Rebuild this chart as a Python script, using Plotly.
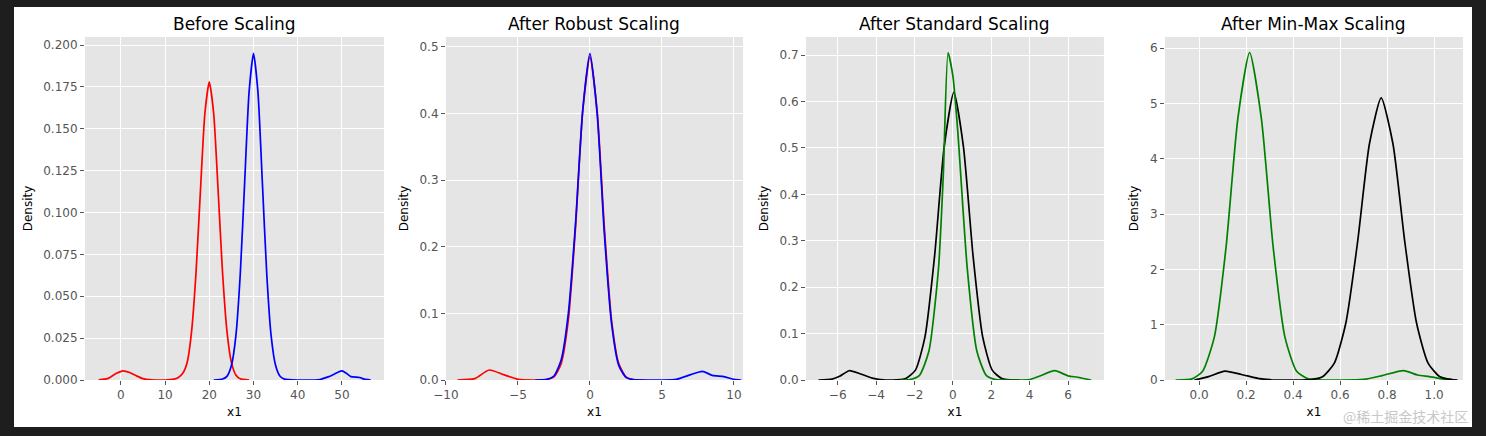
import plotly.graph_objects as go

# ---- density curves (x, density) ----
before_red_x = [-5, -3, -1, 0.5, 2, 3.5, 5, 7, 10, 12, 13, 14, 15, 16, 17, 18, 19, 20, 21, 22, 23, 24, 25, 26, 27, 29]
before_red_y = [0.0001, 0.0008, 0.004, 0.0055, 0.0045, 0.0025, 0.0008, 0.0001, 0, 0.0005, 0.0015, 0.004, 0.0105, 0.029,
                0.064, 0.113, 0.159, 0.178, 0.159, 0.113, 0.064, 0.029, 0.0105, 0.003, 0.0007, 0]
before_blue_x = [21, 23, 24, 25, 26, 27, 28, 29, 30, 31, 32, 33, 34, 35, 36, 37, 40, 45, 47, 49, 50, 51, 52, 54, 55, 56.5]
before_blue_y = [0, 0.0006, 0.0022, 0.0086, 0.026, 0.063, 0.118, 0.172, 0.195, 0.172, 0.118, 0.063, 0.026, 0.0086,
                 0.0022, 0.0005, 0, 0.0003, 0.002, 0.0045, 0.0055, 0.004, 0.002, 0.0015, 0.0005, 0]

robust_red_x = [-9.2, -8, -7, -6, -5, -4, -3, -2.5, -2, -1.5, -1, -0.5, 0, 0.5, 1, 1.5, 2, 2.5, 3, 3.8]
robust_red_y = [0, 0.002, 0.015, 0.008, 0.001, 0, 0.0006, 0.0047, 0.0246, 0.09, 0.229, 0.404, 0.485, 0.404, 0.229,
                0.09, 0.0246, 0.0047, 0.0006, 0]
robust_blue_x = [-3.8, -3, -2.5, -2, -1.5, -1, -0.5, 0, 0.5, 1, 1.5, 2, 2.5, 3, 5, 6, 7, 7.8, 8.5, 9.3, 10, 10.5]
robust_blue_y = [0, 0.001, 0.006, 0.03, 0.1, 0.235, 0.405, 0.49, 0.4, 0.22, 0.085, 0.022, 0.004, 0.0005, 0, 0.001,
                 0.008, 0.013, 0.007, 0.005, 0.001, 0]

standard_black_x = [-7, -6.3, -5.9, -5.4, -4.8, -4.2, -3.5, -2.95, -2.45, -1.95, -1.45, -0.95, -0.45, 0.05, 0.55,
                    1.05, 1.55, 2.05, 2.55, 3, 3.5]
standard_black_y = [0, 0.002, 0.008, 0.02, 0.013, 0.004, 0, 0.0003, 0.0031, 0.0212, 0.0935, 0.268, 0.503, 0.62,
                    0.503, 0.268, 0.0935, 0.0212, 0.0031, 0.0003, 0]
standard_green_x = [-2.75, -2.25, -1.75, -1.25, -0.75, -0.5, -0.25, 0, 0.25, 0.75, 1.25, 1.75, 2.25, 3, 4, 4.5, 5.3,
                    6, 6.5, 7.2]
standard_green_y = [0, 0.0008, 0.0093, 0.062, 0.24, 0.44, 0.705, 0.655, 0.539, 0.24, 0.062, 0.0093, 0.0008, 0, 0.001,
                    0.008, 0.02, 0.009, 0.006, 0]

minmax_green_x = [-0.1, -0.03, 0.015, 0.065, 0.115, 0.165, 0.215, 0.265, 0.315, 0.365, 0.415, 0.465, 0.52, 0.7,
                  0.78, 0.87, 0.93, 0.98, 1.05, 1.09]
minmax_green_y = [0, 0.02, 0.16, 0.78, 2.41, 4.73, 5.92, 4.73, 2.41, 0.78, 0.16, 0.02, 0, 0.01, 0.08, 0.17, 0.09,
                  0.06, 0.01, 0]
minmax_black_x = [-0.02, 0.04, 0.11, 0.18, 0.25, 0.3, 0.4, 0.475, 0.525, 0.575, 0.625, 0.675, 0.725, 0.775, 0.825,
                  0.875, 0.925, 0.975, 1.025, 1.075, 1.1]
minmax_black_y = [0, 0.06, 0.16, 0.1, 0.03, 0.005, 0, 0.009, 0.06, 0.30, 1.04, 2.51, 4.27, 5.1, 4.27, 2.51, 1.04,
                  0.30, 0.06, 0.009, 0]

titles = ["Before Scaling", "After Robust Scaling", "After Standard Scaling", "After Min-Max Scaling"]
panels = [
    [(before_red_x, before_red_y, "red"), (before_blue_x, before_blue_y, "blue")],
    [(robust_red_x, robust_red_y, "red"), (robust_blue_x, robust_blue_y, "blue")],
    [(standard_black_x, standard_black_y, "black"), (standard_green_x, standard_green_y, "green")],
    [(minmax_green_x, minmax_green_y, "green"), (minmax_black_x, minmax_black_y, "black")],
]
x_ranges = [[-8.1, 59.5], [-10, 10.63], [-7.65, 7.87], [-0.145, 1.123]]
y_ranges = [[0, 0.2048], [0, 0.5146], [0, 0.739], [0, 6.2]]
x_ticks = [[0, 10, 20, 30, 40, 50], [-10, -5, 0, 5, 10], [-6, -4, -2, 0, 2, 4, 6],
           [0.0, 0.2, 0.4, 0.6, 0.8, 1.0]]
y_ticks = [dict(tickvals=[0, 0.025, 0.05, 0.075, 0.1, 0.125, 0.15, 0.175, 0.2], tickformat=".3f"),
           dict(tickvals=[0, 0.1, 0.2, 0.3, 0.4, 0.5], tickformat=".1f"),
           dict(tickvals=[0, 0.1, 0.2, 0.3, 0.4, 0.5, 0.6, 0.7], tickformat=".1f"),
           dict(tickvals=[0, 1, 2, 3, 4, 5, 6], tickformat="d")]
x_domains = [[0.0572, 0.2584], [0.3001, 0.5], [0.5424, 0.7429], [0.784, 0.9845]]
x_fmt = ["d", "d", "d", ".1f"]

W, H = 1486, 436
DARK = "#1e1e1e"


def frame_rect(x0, x1, y0, y1):
    return dict(type="rect", xref="paper", yref="paper", x0=x0 / W, x1=x1 / W, y0=1 - y1 / H, y1=1 - y0 / H,
                fillcolor=DARK, line=dict(width=0), layer="above")


fig = go.Figure()
layout = dict(
    width=W, height=H, margin=dict(l=0, r=0, t=0, b=0, autoexpand=False),
    paper_bgcolor="white", plot_bgcolor="#E5E5E5", showlegend=False,
    font=dict(family="DejaVu Sans", color="#555555", size=12),
    shapes=[frame_rect(0, 14, 0, H), frame_rect(1472, W, 0, H),
            frame_rect(0, W, 0, 7), frame_rect(0, W, 427, H)],
    annotations=[],
)
for i in range(4):
    n = "" if i == 0 else str(i + 1)
    for xs, ys, c in panels[i]:
        fig.add_trace(go.Scatter(x=xs, y=ys, mode="lines", line=dict(color=c, width=1.7, shape="spline", smoothing=0.6),
                                 xaxis="x" + n, yaxis="y" + n, hoverinfo="skip"))
    layout["xaxis" + n] = dict(domain=x_domains[i], range=x_ranges[i], tickvals=x_ticks[i], tickformat=x_fmt[i],
                               showgrid=True, gridcolor="white", gridwidth=1, zeroline=False, ticks="outside",
                               ticklen=4, tickcolor="#555555", anchor="y" + n, showline=False, automargin=False,
                               title=dict(text="x1", font=dict(color="black", size=12), standoff=6))
    layout["yaxis" + n] = dict(domain=[56 / H, 399 / H], range=y_ranges[i], **y_ticks[i],
                               showgrid=True, gridcolor="white", gridwidth=1, zeroline=False, ticks="outside",
                               ticklen=4, tickcolor="#555555", anchor="x" + n, automargin=False,
                               title=dict(text="Density", font=dict(color="black", size=12), standoff=8))
    layout["annotations"].append(dict(text=titles[i], xref="paper", yref="paper", xanchor="center",
                                      x=sum(x_domains[i]) / 2, y=1 - 24 / H, showarrow=False,
                                      font=dict(size=17, color="black"), yanchor="middle"))

layout["annotations"].append(dict(text="@稀土掘金技术社区", xref="paper", yref="paper", x=1470 / W, y=1 - 416 / H,
                                  xanchor="right", yanchor="middle", showarrow=False,
                                  font=dict(family="Noto Sans CJK SC", size=14, color="#c8c8c8")))
fig.update_layout(**layout)
fig.write_html("out.html", config={"displayModeBar": False},
               post_script="document.body.style.margin='0';")
